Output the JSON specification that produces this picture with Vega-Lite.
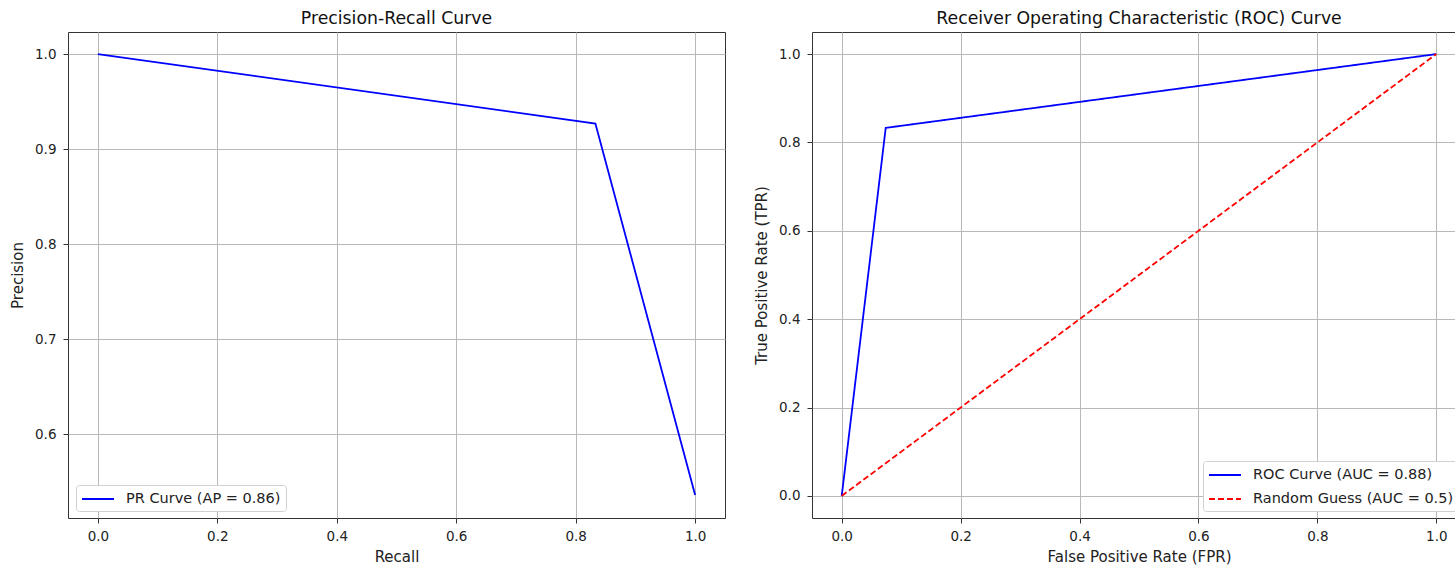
{
  "$schema": "https://vega.github.io/schema/vega-lite/v6.json",
  "background": "white",
  "padding": {"left": 10, "top": 9, "right": 0, "bottom": 0},
  "spacing": 28,
  "config": {
    "font": "DejaVu Sans",
    "view": {"stroke": "#333", "strokeWidth": 1},
    "title": {"fontSize": 17.3, "fontWeight": "normal", "color": "#111", "offset": 5, "font": "DejaVu Sans"},
    "axis": {
      "labelFont": "DejaVu Sans", "titleFont": "DejaVu Sans",
      "labelFontSize": 13.5, "titleFontSize": 15, "titleFontWeight": "normal",
      "labelColor": "#222", "titleColor": "#222",
      "domain": false, "tickColor": "#333", "tickSize": 5,
      "gridColor": "#b8b8b8", "gridWidth": 1, "grid": true
    },
    "axisX": {"labelPadding": 6, "titlePadding": 7},
    "axisY": {"labelPadding": 7, "titlePadding": 9},
    "legend": {
      "offset": 7.5, "fillColor": "white", "strokeColor": "#d0d0d0",
      "cornerRadius": 3, "padding": 5, "symbolType": "M-2,0H2", "symbolSize": 256,
      "symbolOffset": 8,
      "symbolStrokeWidth": 2, "labelFontSize": 14.5, "labelFont": "DejaVu Sans", "labelColor": "#222",
      "labelOffset": 19, "rowPadding": 8, "labelLimit": 400, "title": null
    }
  },
  "hconcat": [
    {
      "title": "Precision-Recall Curve",
      "width": 657,
      "height": 486,
      "data": {"values": [
        {"curve": "PR Curve (AP = 0.86)", "recall": 0.0, "precision": 1.0},
        {"curve": "PR Curve (AP = 0.86)", "recall": 0.833, "precision": 0.927},
        {"curve": "PR Curve (AP = 0.86)", "recall": 1.0, "precision": 0.536}
      ]},
      "mark": {"type": "line", "strokeWidth": 1.8},
      "encoding": {
        "x": {"field": "recall", "type": "quantitative", "title": "Recall",
              "scale": {"domain": [-0.05, 1.05], "nice": false, "zero": false},
              "axis": {"values": [0, 0.2, 0.4, 0.6, 0.8, 1.0], "format": ".1f"}},
        "y": {"field": "precision", "type": "quantitative", "title": "Precision",
              "scale": {"domain": [0.5118, 1.0233], "nice": false, "zero": false},
              "axis": {"values": [0.6, 0.7, 0.8, 0.9, 1.0], "format": ".1f"}},
        "color": {"field": "curve", "type": "nominal",
                  "scale": {"domain": ["PR Curve (AP = 0.86)"], "range": ["#0000ff"]},
                  "legend": {"orient": "bottom-left"}}
      }
    },
    {
      "title": "Receiver Operating Characteristic (ROC) Curve",
      "width": 654,
      "height": 486,
      "data": {"values": [
        {"curve": "ROC Curve (AUC = 0.88)", "fpr": 0.0, "tpr": 0.0},
        {"curve": "ROC Curve (AUC = 0.88)", "fpr": 0.074, "tpr": 0.833},
        {"curve": "ROC Curve (AUC = 0.88)", "fpr": 1.0, "tpr": 1.0},
        {"curve": "Random Guess (AUC = 0.5)", "fpr": 0.0, "tpr": 0.0},
        {"curve": "Random Guess (AUC = 0.5)", "fpr": 1.0, "tpr": 1.0}
      ]},
      "mark": {"type": "line", "strokeWidth": 1.8},
      "encoding": {
        "x": {"field": "fpr", "type": "quantitative", "title": "False Positive Rate (FPR)",
              "scale": {"domain": [-0.05, 1.05], "nice": false, "zero": false},
              "axis": {"values": [0, 0.2, 0.4, 0.6, 0.8, 1.0], "format": ".1f"}},
        "y": {"field": "tpr", "type": "quantitative", "title": "True Positive Rate (TPR)",
              "scale": {"domain": [-0.05, 1.05], "nice": false, "zero": false},
              "axis": {"values": [0, 0.2, 0.4, 0.6, 0.8, 1.0], "format": ".1f"}},
        "color": {"field": "curve", "type": "nominal",
                  "scale": {"domain": ["ROC Curve (AUC = 0.88)", "Random Guess (AUC = 0.5)"], "range": ["#0000ff", "#ff0000"]},
                  "legend": {"orient": "bottom-right"}},
        "strokeDash": {"field": "curve", "type": "nominal",
                  "scale": {"domain": ["ROC Curve (AUC = 0.88)", "Random Guess (AUC = 0.5)"], "range": [[1, 0], [6, 3]]},
                  "legend": {"orient": "bottom-right"}},
        "order": {"field": "fpr", "type": "quantitative"}
      }
    }
  ],
  "resolve": {"scale": {"color": "independent", "strokeDash": "independent"}, "legend": {"color": "independent", "strokeDash": "independent"}}
}
